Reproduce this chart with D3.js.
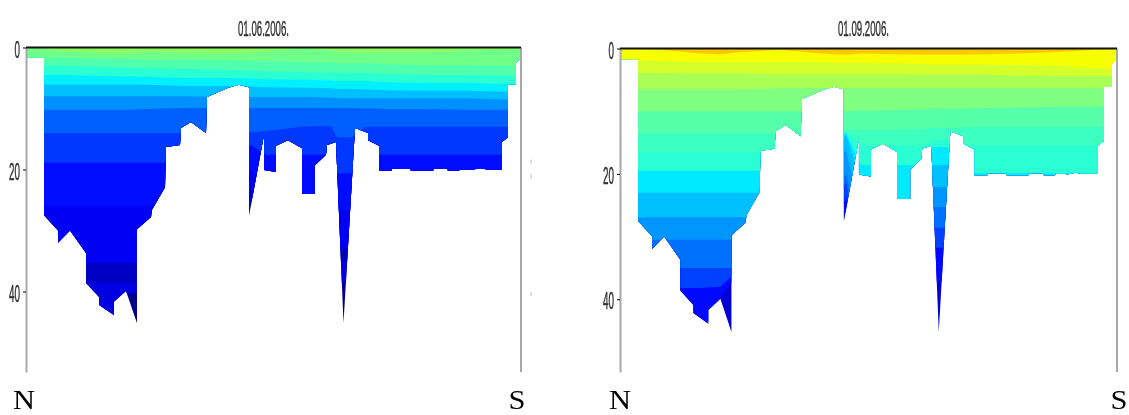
<!DOCTYPE html>
<html>
<head>
<meta charset="utf-8">
<title>N-S sections</title>
<script src="https://cdn.jsdelivr.net/npm/d3@7"></script>
<style>
    html, body { margin: 0; padding: 0; background: #fff; }
    svg { display: block; filter: blur(0.45px); }
</style>
</head>
<body>
<div id="chart"></div>
<script>
// section outline, distance along the N-S line (arbitrary units) and bottom depth (m)
var landDist = [0, 1, 18, 18, 32, 32, 44, 60, 60, 73, 73, 88, 88, 100, 111, 111, 125, 126, 139, 140, 154, 155, 165, 180, 181, 202, 213, 223, 223, 238, 238, 250, 250, 262, 276, 276, 289, 289, 300, 301, 310, 317.5, 329, 342, 342, 353, 353, 366, 366, 384, 385, 407, 408, 421, 422, 433, 434, 444, 445, 454, 461, 476, 476, 482, 482, 490, 490, 495, 495];
var landDepth = [0, 1.7, 1.7, 27.5, 30, 32, 30, 33.7, 38.6, 40.9, 42.2, 43.9, 41.7, 39.9, 45.2, 29.8, 27.8, 26.6, 22.9, 16.3, 16, 13.2, 12.2, 14, 8.1, 6.6, 6.1, 6.5, 27.6, 14.3, 20.1, 20.4, 16.1, 15.2, 16.5, 24, 24, 19.3, 17.6, 16, 15.5, 45.2, 13.2, 14, 15.2, 16.1, 20.2, 20.2, 19.9, 19.9, 20.2, 20.2, 19.9, 19.9, 20.2, 20.2, 20, 20, 20.1, 19.8, 20, 20, 15.5, 14.7, 6.1, 6.1, 2.5, 1.7, 0];

// distances where the band boundaries were read
var stations = [0, 40, 80, 100, 120, 160, 200, 225, 240, 280, 305, 311, 326, 340, 360, 400, 440, 495];

var junColors = ["#8cff62", "#70ff88", "#50ffae", "#2affd4", "#00f0ff", "#00bfff", "#0090ff", "#0060ff", "#0038ff", "#000cff", "#0000f4", "#0000c4", "#0000e0", "#00008c"];
var junBands = [
    [0, 0.6, 1, 1, 0.7, 0.9, 1, 0.9, 0.6, 0.2, 0.5, 0.8, 0.8, 0.9, 0.9, 0.9, 0.5, 0.3],
    [1.6, 1.7, 1.9, 1.9, 2, 2, 2.1, 2.2, 2.2, 2.4, 2.5, 2.6, 2.6, 2.6, 2.7, 2.9, 2.9, 3],
    [2.9, 3, 3.2, 3.3, 3.4, 3.5, 3.7, 3.8, 3.9, 4, 4.1, 4.2, 4.2, 4.2, 4.3, 4.5, 4.5, 4.7],
    [4.5, 4.5, 4.7, 4.7, 4.8, 5, 5, 5.1, 5.2, 5.3, 5.4, 5.5, 5.5, 5.5, 5.7, 5.8, 5.8, 6],
    [6.1, 6.1, 6.1, 6.1, 6.1, 6.3, 6.3, 6.4, 6.5, 6.6, 6.7, 6.8, 6.8, 6.9, 7, 7.1, 7.1, 7.3],
    [8, 8, 8, 8, 8, 8, 8.1, 8.1, 8.1, 8.1, 8.2, 8.3, 8.3, 8.3, 8.3, 8.3, 8.3, 8.6],
    [10.2, 10.2, 10.2, 10.2, 10.1, 9.9, 9.9, 9.9, 9.9, 9.9, 9.9, 9.9, 9.9, 10, 10.1, 10.1, 10.2, 10.2],
    [14, 14, 14, 14, 14, 14, 14, 13.9, 13.7, 12.9, 12.9, 14.7, 14.7, 13, 13, 13, 13, 13],
    [18.9, 18.9, 18.9, 18.9, 18.9, 18.9, 18.9, 16, 17.6, 17.6, 17.6, 20.6, 20.6, 17.6, 17.6, 17.6, 17.6, 17.6],
    [26, 26, 26, 26, 26, 26, 26, 20, 23, 26, 26, 26.6, 26.6, 26, 26, 26, 26, 26],
    [35.3, 35.3, 35.3, 35.3, 35.3, 35.3, 35.3, 23, 35, 35, 35, 32.9, 32.9, 35, 35, 35, 35, 35],
    [38.6, 38.6, 38.6, 38.6, 38.6, 38.6, 38.6, 24, 38, 38, 38, 35, 35, 38, 38, 38, 38, 38],
    [46, 46, 46, 40.5, 40, 40, 40, 25, 40, 40, 40, 38.6, 38.6, 40, 40, 40, 40, 40],
    [60, 60, 60, 60, 60, 60, 60, 60, 60, 60, 60, 60, 60, 60, 60, 60, 60, 60]
];

var sepColors = ["#ffc800", "#f8ff00", "#d4ff2a", "#aaff55", "#80ff80", "#55ffaa", "#3dffc0", "#2affd4", "#00eaff", "#00c0ff", "#0095ff", "#0070ff", "#0040ff", "#0008ff", "#0000d4"];
var sepBands = [
    [0, 0.2, 0.8, 0.9, 0.6, 0.2, 0.8, 1, 0.8, 0.9, 1, 1, 1, 1, 0.9, 0.8, 0.5, 0],
    [1.8, 2, 2.2, 2.2, 2.2, 2.2, 2.2, 2.3, 2.3, 2.4, 2.5, 2.5, 2.5, 2.5, 2.5, 2.6, 2.8, 3.3],
    [3.9, 3.9, 4, 4, 4, 4.1, 4.1, 4.1, 4.1, 4.1, 4.2, 4.2, 4.2, 4.2, 4.2, 4.3, 4.4, 4.4],
    [6.5, 6.5, 6.5, 6.5, 6.5, 6.3, 6.3, 6.3, 6.3, 6.3, 6.3, 6.3, 6.3, 6.3, 6.3, 6.3, 6.3, 6.3],
    [10, 10, 10, 10, 10, 10, 10, 10, 9.9, 9.8, 9.7, 9.6, 9.6, 9.6, 9.5, 9.4, 9.3, 9.3],
    [13.5, 13.5, 13.5, 13.5, 13.5, 13.5, 13.3, 13, 13, 13, 12.8, 12.7, 12.7, 12.6, 12.5, 12.5, 12.5, 12.5],
    [16.5, 16.5, 16.5, 16.5, 16.5, 16.5, 16.5, 13.2, 15.5, 15.5, 15.5, 14.5, 14.5, 15.5, 15.5, 15.5, 15.5, 15.5],
    [19.5, 19.5, 19.5, 19.5, 19.5, 19.5, 19.5, 13.4, 18.6, 18.6, 18.6, 15.7, 15.7, 19.9, 19.9, 19.9, 19.9, 19.9],
    [23, 23, 23, 23, 23, 23, 23, 13.6, 21, 25, 25, 18.6, 18.6, 21, 21, 21, 21, 21],
    [26.9, 26.9, 26.9, 26.9, 26.9, 26.9, 26.9, 16, 27, 27, 27, 22.1, 22.1, 27, 27, 27, 27, 27],
    [30.5, 30.5, 30.5, 30.5, 30.5, 30.5, 30.5, 19.8, 30, 30, 30, 25.3, 25.3, 30, 30, 30, 30, 30],
    [35, 35, 35, 35, 35, 35, 35, 21, 35, 35, 35, 28.6, 28.6, 35, 35, 35, 35, 35],
    [38.2, 38.2, 38.2, 38, 35, 38, 38, 23.5, 38, 38, 38, 31.8, 31.8, 38, 38, 38, 38, 38],
    [46, 46, 46, 39.8, 35.4, 38, 38, 26, 38, 38, 38, 37.2, 37.2, 38, 38, 38, 38, 38],
    [60, 60, 60, 60, 60, 60, 60, 60, 60, 60, 60, 60, 60, 60, 60, 60, 60, 60]
];

var depthTicks = [0, 20, 40];
var strayDist = [505, 505, 505];
var strayDepth = [18.7, 21.1, 40.4];

var svg = d3.select("#chart").append("svg")
    .attr("width", 1129)
    .attr("height", 415);

// draws one section; bands are painted deepest first, each from the surface down
function drawPanel(id, title, bands, colors, box) {
    var x = d3.scaleLinear().domain([0, 495]).range([box.left, box.right]);
    var y = d3.scaleLinear().domain([0, box.maxDepth]).range([box.top, box.bottom]);

    var outline = d3.line()
        .x(function(d) { return x(landDist[d]); })
        .y(function(d) { return y(landDepth[d]); });

    svg.append("clipPath").attr("id", id)
        .append("path")
        .attr("d", outline(d3.range(landDist.length)) + "Z");

    var band = d3.area()
        .x(function(d, i) { return x(stations[i]); })
        .y0(y(0));

    var g = svg.append("g").attr("clip-path", "url(#" + id + ")");
    g.selectAll("path")
        .data(bands.map(function(b, i) { return { depth: b, color: colors[i] }; }).reverse())
        .enter()
        .append("path")
        .attr("fill", function(d) { return d.color; })
        .attr("d", function(d) {
            return band.y1(function(v) { return y(v); })(d.depth);
        });

    // frame: grey sides, black surface line
    svg.append("line")
        .attr("x1", x(495)).attr("x2", x(495))
        .attr("y1", y(0)).attr("y2", box.bottom)
        .attr("stroke", "#a8a8a8").attr("stroke-width", 2);

    var axis = svg.append("g")
        .attr("transform", "translate(" + box.left + ",0)")
        .call(d3.axisLeft(y).tickValues(depthTicks).tickSize(3).tickSizeOuter(0));
    axis.select(".domain").attr("stroke", "#a8a8a8").attr("stroke-width", 2);
    axis.selectAll(".tick text")
        .attr("font-family", "Liberation Sans")
        .attr("font-size", 23)
        .attr("fill", "#333")
        .attr("stroke", "#333")
        .attr("stroke-width", 0.5)
        .attr("x", -14)
        .attr("dy", "0.42em")
        .attr("transform", "scale(0.43,1)");

    svg.append("line")
        .attr("x1", x(0)).attr("x2", x(495))
        .attr("y1", y(0)).attr("y2", y(0))
        .attr("stroke", "#111").attr("stroke-width", 2);

    svg.append("text")
        .attr("transform", "translate(" + box.titleX + ",36) scale(0.44,1)")
        .attr("text-anchor", "middle")
        .attr("font-family", "Liberation Sans")
        .attr("font-size", 22)
        .attr("fill", "#333")
        .attr("stroke", "#333")
        .attr("stroke-width", 0.5)
        .text(title);

    svg.selectAll(null)
        .data([["N", box.nX], ["S", box.sX]])
        .enter()
        .append("text")
        .attr("transform", function(d) { return "translate(" + d[1] + ",409) scale(1.09,1)"; })
        .attr("text-anchor", "middle")
        .attr("font-family", "Liberation Serif")
        .attr("font-size", 28)
        .attr("fill", "#000")
        .text(function(d) { return d[0]; });

    return { x: x, y: y };
}

var jun = drawPanel("clipJun", "01.06.2006.", junBands, junColors,
    { left: 26, right: 521, top: 47.5, bottom: 372, maxDepth: 53.2, titleX: 263.5, nX: 24, sX: 517 });
drawPanel("clipSep", "01.09.2006.", sepBands, sepColors,
    { left: 620, right: 1117, top: 48.5, bottom: 372, maxDepth: 51.6, titleX: 863.5, nX: 620, sX: 1119 });

// small leftovers just right of the first panel
svg.selectAll(null)
    .data(strayDist)
    .enter()
    .append("line")
    .attr("x1", function(d) { return jun.x(d); })
    .attr("x2", function(d) { return jun.x(d); })
    .attr("y1", function(d, i) { return jun.y(strayDepth[i]) - 2; })
    .attr("y2", function(d, i) { return jun.y(strayDepth[i]) + 2; })
    .attr("stroke", "#bbb")
    .attr("stroke-width", 1);
</script>
</body>
</html>
